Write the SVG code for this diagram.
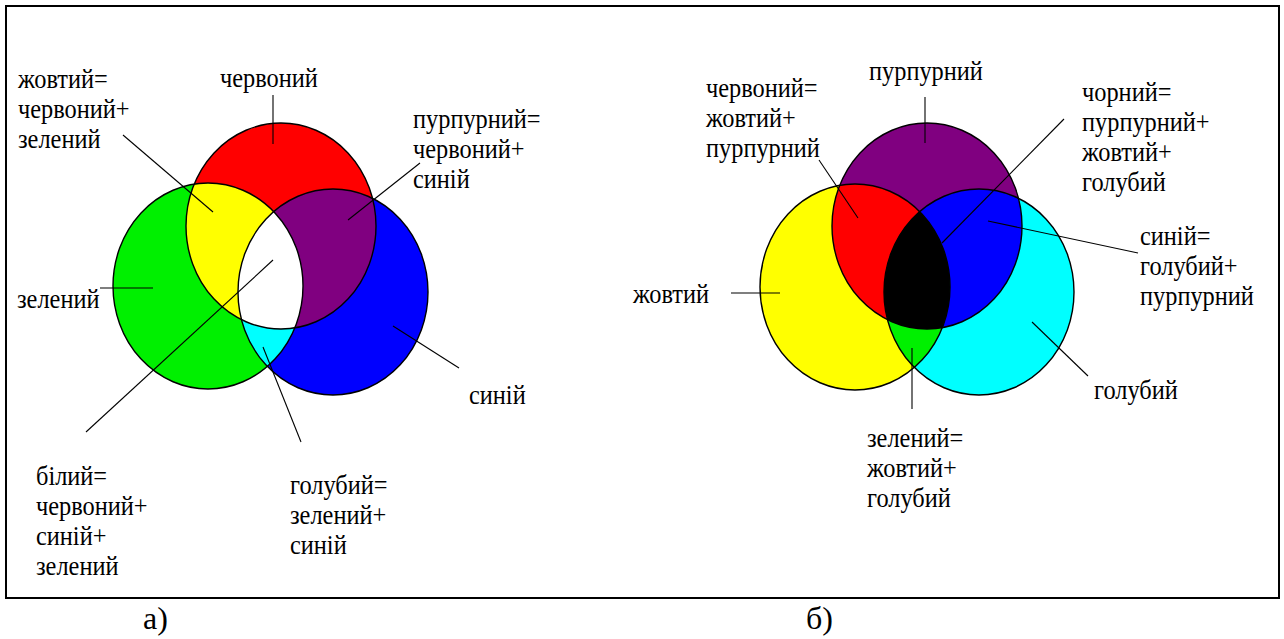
<svg xmlns="http://www.w3.org/2000/svg" xmlns:xlink="http://www.w3.org/1999/xlink" width="1284" height="639" viewBox="0 0 1284 639">
<style>
text{font-family:Liberation Serif,Tinos,DejaVu Serif,Times New Roman,Times,serif}
.t{font-size:28px;fill:#000}
.cap{font-size:32px;fill:#000}
.ol{fill:none;stroke:#000;stroke-width:1.4}
.ln{stroke:#000;stroke-width:1.1;fill:none}
</style>
<defs>
<ellipse id="eR" cx="281" cy="226" rx="95" ry="103"/>
<ellipse id="eG" cx="208" cy="286" rx="95" ry="103"/>
<ellipse id="eB" cx="333" cy="292" rx="95" ry="103"/>
<ellipse id="eP" cx="927" cy="226" rx="95" ry="103"/>
<ellipse id="eY" cx="855" cy="287" rx="95" ry="103"/>
<ellipse id="eC" cx="979" cy="292" rx="95" ry="103"/>
<clipPath id="cR"><use xlink:href="#eR"/></clipPath>
<clipPath id="cG"><use xlink:href="#eG"/></clipPath>
<clipPath id="cP"><use xlink:href="#eP"/></clipPath>
<clipPath id="cY"><use xlink:href="#eY"/></clipPath>
</defs>
<rect x="6" y="6" width="1273" height="592" fill="#fff" stroke="#000" stroke-width="2"/>

<g id="additive">
<use xlink:href="#eR" fill="#ff0000"/>
<use xlink:href="#eG" fill="#00f000"/>
<use xlink:href="#eB" fill="#0000ff"/>
<g clip-path="url(#cR)"><use xlink:href="#eG" fill="#ffff00"/><use xlink:href="#eB" fill="#800080"/></g>
<g clip-path="url(#cG)"><use xlink:href="#eB" fill="#00ffff"/></g>
<g clip-path="url(#cR)"><g clip-path="url(#cG)"><use xlink:href="#eB" fill="#ffffff"/></g></g>
<use xlink:href="#eR" class="ol"/>
<use xlink:href="#eG" class="ol"/>
<use xlink:href="#eB" class="ol"/>
</g>

<g id="subtractive">
<use xlink:href="#eP" fill="#800080"/>
<use xlink:href="#eY" fill="#ffff00"/>
<use xlink:href="#eC" fill="#00ffff"/>
<g clip-path="url(#cP)"><use xlink:href="#eY" fill="#ff0000"/><use xlink:href="#eC" fill="#0000ff"/></g>
<g clip-path="url(#cY)"><use xlink:href="#eC" fill="#00f000"/></g>
<g clip-path="url(#cP)"><g clip-path="url(#cY)"><use xlink:href="#eC" fill="#000000"/></g></g>
<use xlink:href="#eP" class="ol"/>
<use xlink:href="#eY" class="ol"/>
<use xlink:href="#eC" class="ol"/>
</g>

<g id="connectors">
<line class="ln" x1="273" y1="95" x2="273" y2="144"/>
<line class="ln" x1="123" y1="135" x2="213" y2="212"/>
<line class="ln" x1="420" y1="163" x2="348" y2="220"/>
<line class="ln" x1="100" y1="288" x2="153" y2="288"/>
<line class="ln" x1="273" y1="260" x2="86" y2="432"/>
<line class="ln" x1="263" y1="347" x2="301" y2="442"/>
<line class="ln" x1="393" y1="326" x2="459" y2="368"/>
<line class="ln" x1="925" y1="97" x2="925" y2="143"/>
<line class="ln" x1="819" y1="160" x2="858" y2="218"/>
<line class="ln" x1="1064" y1="119" x2="942" y2="243"/>
<line class="ln" x1="988" y1="221" x2="1138" y2="253"/>
<line class="ln" x1="731" y1="293" x2="780" y2="293"/>
<line class="ln" x1="1032" y1="322" x2="1088" y2="376"/>
<line class="ln" x1="912" y1="348" x2="912" y2="409"/>
</g>

<g id="label-chervonyi"><text class="t" font-family="Liberation Serif, serif" transform="translate(220 87) scale(0.87 1)">червоний</text></g>
<g id="label-zhovtyi"><text class="t" transform="translate(18 88) scale(0.87 1)"><tspan x="0" y="0">жовтий=</tspan><tspan x="0" y="30">червоний+</tspan><tspan x="0" y="60">зелений</tspan></text></g>
<g id="label-purpurnyi"><text class="t" transform="translate(413 128) scale(0.87 1)"><tspan x="0" y="0">пурпурний=</tspan><tspan x="0" y="30">червоний+</tspan><tspan x="0" y="60">синій</tspan></text></g>
<g id="label-zelenyi"><text class="t" transform="translate(17 308) scale(0.87 1)">зелений</text></g>
<g id="label-synii"><text class="t" transform="translate(469 404) scale(0.87 1)">синій</text></g>
<g id="label-bilyi"><text class="t" transform="translate(36 485) scale(0.87 1)"><tspan x="0" y="0">білий=</tspan><tspan x="0" y="30">червоний+</tspan><tspan x="0" y="60">синій+</tspan><tspan x="0" y="90">зелений</tspan></text></g>
<g id="label-holubyi"><text class="t" transform="translate(290 494) scale(0.87 1)"><tspan x="0" y="0">голубий=</tspan><tspan x="0" y="30">зелений+</tspan><tspan x="0" y="60">синій</tspan></text></g>

<g id="label-purpurnyi2"><text class="t" transform="translate(869 80) scale(0.87 1)">пурпурний</text></g>
<g id="label-chervonyi2"><text class="t" transform="translate(706 97) scale(0.87 1)"><tspan x="0" y="0">червоний=</tspan><tspan x="0" y="30">жовтий+</tspan><tspan x="0" y="60">пурпурний</tspan></text></g>
<g id="label-chornyi"><text class="t" transform="translate(1082 101) scale(0.87 1)"><tspan x="0" y="0">чорний=</tspan><tspan x="0" y="30">пурпурний+</tspan><tspan x="0" y="60">жовтий+</tspan><tspan x="0" y="90">голубий</tspan></text></g>
<g id="label-synii2"><text class="t" transform="translate(1140 245) scale(0.87 1)"><tspan x="0" y="0">синій=</tspan><tspan x="0" y="30">голубий+</tspan><tspan x="0" y="60">пурпурний</tspan></text></g>
<g id="label-zhovtyi2"><text class="t" transform="translate(633 303) scale(0.87 1)">жовтий</text></g>
<g id="label-holubyi2"><text class="t" transform="translate(1094 399) scale(0.87 1)">голубий</text></g>
<g id="label-zelenyi2"><text class="t" transform="translate(867 447) scale(0.87 1)"><tspan x="0" y="0">зелений=</tspan><tspan x="0" y="30">жовтий+</tspan><tspan x="0" y="60">голубий</tspan></text></g>

<g id="captions">
<text class="cap" x="143" y="629">а)</text>
<text class="cap" x="806" y="629">б)</text>
</g>
</svg>
